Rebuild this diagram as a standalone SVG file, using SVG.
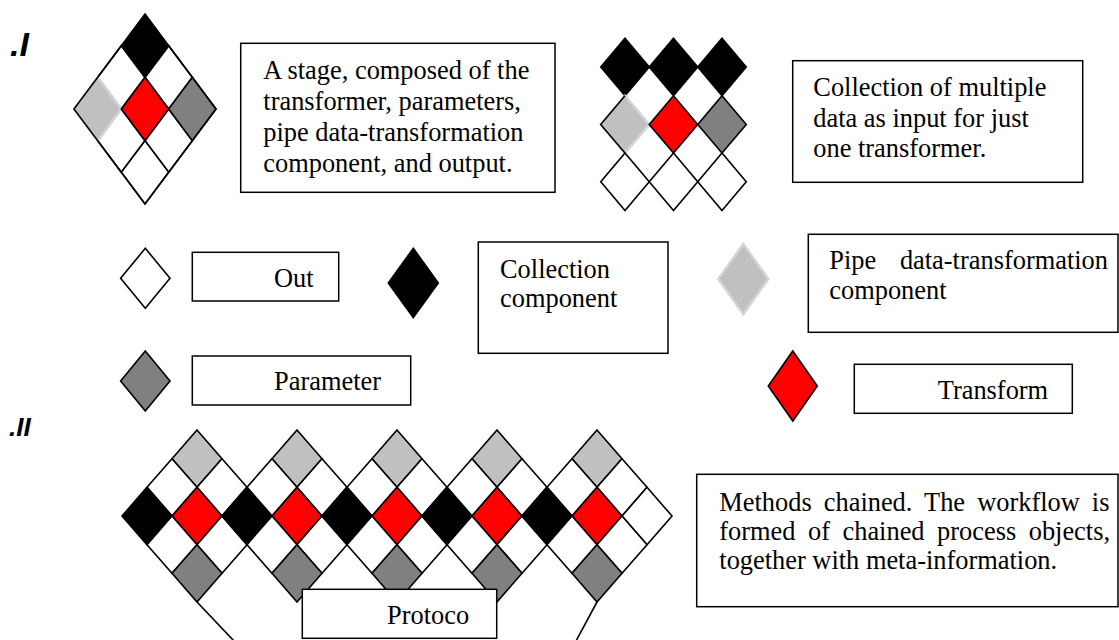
<svg xmlns="http://www.w3.org/2000/svg" width="1119" height="640" viewBox="0 0 1119 640">
<style>
.t{font-family:"Liberation Serif","Times New Roman",serif;font-size:26.4px;fill:#000}
.lbl{font-family:"Liberation Sans",Arial,sans-serif;font-weight:bold;font-style:italic;fill:#000}
.box{fill:#fff;stroke:#000;stroke-width:1.5}
.c{stroke:#000;stroke-width:1.6;stroke-linejoin:miter}
.w{fill:#fff}
.k{fill:#000}
.r{fill:#ff0000}
.dg{fill:#808080}
.lg{fill:#c0c0c0}
.lgs{fill:#c0c0c0;stroke:#d4d4d4;stroke-width:2.5}
.edge{fill:none;stroke:#000;stroke-width:1.6}
.conn{fill:none;stroke:#000;stroke-width:1.6}
</style>
<defs>
<g id="stageCells">
<polygon class="c lg" points="0,-86 25,-57.33 0,-28.67 -25,-57.33"/>
<polygon class="c w" points="-25,-57.33 0,-28.67 -25,0 -50,-28.67"/>
<polygon class="c w" points="25,-57.33 50,-28.67 25,0 0,-28.67"/>
<polygon class="c w" points="50,-28.67 75,0 50,28.67 25,0"/>
<polygon class="c k" points="-50,-28.67 -25,0 -50,28.67 -75,0"/>
<polygon class="c r" points="0,-28.67 25,0 0,28.67 -25,0"/>
<polygon class="c w" points="-25,0 0,28.67 -25,57.33 -50,28.67"/>
<polygon class="c w" points="25,0 50,28.67 25,57.33 0,28.67"/>
<polygon class="c dg" points="0,28.67 25,57.33 0,86 -25,57.33"/>
</g>
</defs>
<rect width="1119" height="640" fill="#fff"/>

<text class="lbl" x="10" y="56" font-size="34">.I</text>
<text class="lbl" x="9" y="436" font-size="26">.II</text>

<!-- Section I: stage cluster -->
<g id="stage-cluster">
<polygon class="c w" points="121.33,45.67 145,77.33 121.33,109 97.67,77.33"/>
<polygon class="c w" points="168.67,45.67 192.33,77.33 168.67,109 145,77.33"/>
<polygon class="c w" points="121.33,109 145,140.67 121.33,172.33 97.67,140.67"/>
<polygon class="c w" points="168.67,109 192.33,140.67 168.67,172.33 145,140.67"/>
<polygon class="c w" points="145,140.67 168.67,172.33 145,204 121.33,172.33"/>
<polygon class="lgs" points="97.67,77.33 121.33,109 97.67,140.67 74,109"/>
<polygon class="c dg" points="192.33,77.33 216,109 192.33,140.67 168.67,109"/>
<polygon class="c r" points="145,77.33 168.67,109 145,140.67 121.33,109"/>
<polygon class="c k" points="145,14 168.67,45.67 145,77.33 121.33,45.67"/>
<polyline class="edge" points="121.33,45.67 74,109 145,204 216,109 168.67,45.67"/>
</g>

<g id="stage-text">
<rect class="box" x="240.7" y="43.3" width="314.3" height="149"/>
<text class="t" x="263.3" y="79.3">A stage, composed of the</text>
<text class="t" x="263.3" y="110">transformer, parameters,</text>
<text class="t" x="263.3" y="141">pipe data-transformation</text>
<text class="t" x="263.3" y="171.7">component, and output.</text>
</g>

<!-- Section I: collection cluster -->
<g id="collection-cluster">
<polygon class="c k" points="625,38.3 649.25,67 625,95.7 600.75,67"/>
<polygon class="c k" points="673.5,38.3 697.75,67 673.5,95.7 649.25,67"/>
<polygon class="c k" points="722,38.3 746.25,67 722,95.7 697.75,67"/>
<polygon class="lgs" points="625,95.7 649.25,124.4 625,153.1 600.75,124.4"/>
<polyline class="edge" points="625,95.7 600.75,124.4 625,153.1"/>
<polygon class="c r" points="673.5,95.7 697.75,124.4 673.5,153.1 649.25,124.4"/>
<polygon class="c dg" points="722,95.7 746.25,124.4 722,153.1 697.75,124.4"/>
<polygon class="c w" points="625,153.1 649.25,181.8 625,210.5 600.75,181.8"/>
<polygon class="c w" points="673.5,153.1 697.75,181.8 673.5,210.5 649.25,181.8"/>
<polygon class="c w" points="722,153.1 746.25,181.8 722,210.5 697.75,181.8"/>
</g>

<g id="collection-text">
<rect class="box" x="792.7" y="60.7" width="290" height="121.6"/>
<text class="t" x="813.3" y="95.7">Collection of multiple</text>
<text class="t" x="813.3" y="126.7">data as input for just</text>
<text class="t" x="813.3" y="157.3">one transformer.</text>
</g>

<!-- Legend -->
<g id="legend-out">
<polygon class="c w" points="145.3,248.3 170,278.3 145.3,308.3 120.6,278.3"/>
<rect class="box" x="192.3" y="252.3" width="146.4" height="48.7"/>
<text class="t" x="274" y="286.7">Out</text>
</g>

<g id="legend-collection">
<polygon class="c k" points="413.3,248.3 438.3,283 413.3,317.7 388.3,283"/>
<rect class="box" x="478.3" y="242" width="189.7" height="111.3"/>
<text class="t" x="500" y="278">Collection</text>
<text class="t" x="500" y="307">component</text>
</g>

<g id="legend-pipe">
<polygon class="lgs" points="743.3,244 768.3,279 743.3,314 718.3,279"/>
<rect class="box" x="808.3" y="234.3" width="309.7" height="98"/>
<text class="t" x="829.3" y="269">Pipe</text>
<text class="t" x="1108" y="269" text-anchor="end">data-transformation</text>
<text class="t" x="829.3" y="299">component</text>
</g>

<g id="legend-parameter">
<polygon class="c dg" points="145.3,351 170,381 145.3,411 120.6,381"/>
<rect class="box" x="192.3" y="356" width="218.4" height="49"/>
<text class="t" x="274" y="390">Parameter</text>
</g>

<g id="legend-transform">
<polygon class="c r" points="792.8,351 817.3,386 792.8,421 768.3,386"/>
<rect class="box" x="854.3" y="364.3" width="218" height="49"/>
<text class="t" x="937.7" y="399">Transform</text>
</g>

<!-- Section II: chained stages -->
<g id="chain-stage-1"><use href="#stageCells" transform="translate(197,516)"/></g>
<g id="chain-stage-2"><use href="#stageCells" transform="translate(297,516)"/></g>
<g id="chain-stage-3"><use href="#stageCells" transform="translate(397,516)"/></g>
<g id="chain-stage-4"><use href="#stageCells" transform="translate(497,516)"/></g>
<g id="chain-stage-5"><use href="#stageCells" transform="translate(597,516)"/></g>

<g id="connectors">
<line class="conn" x1="197" y1="602" x2="234" y2="641"/>
<line class="conn" x1="597" y1="602" x2="576" y2="641"/>
</g>

<g id="protocol">
<rect class="box" x="302.3" y="589.3" width="194.4" height="49"/>
<text class="t" x="387" y="624">Protoco</text>
</g>

<g id="methods-text">
<rect class="box" x="696.7" y="474.3" width="421.3" height="132.4"/>
<text class="t" x="719.3" y="511" word-spacing="5.5">Methods chained. The workflow is</text>
<text class="t" x="719.3" y="540" word-spacing="5.9">formed of chained process objects,</text>
<text class="t" x="719.3" y="569">together with meta-information.</text>
</g>
</svg>
